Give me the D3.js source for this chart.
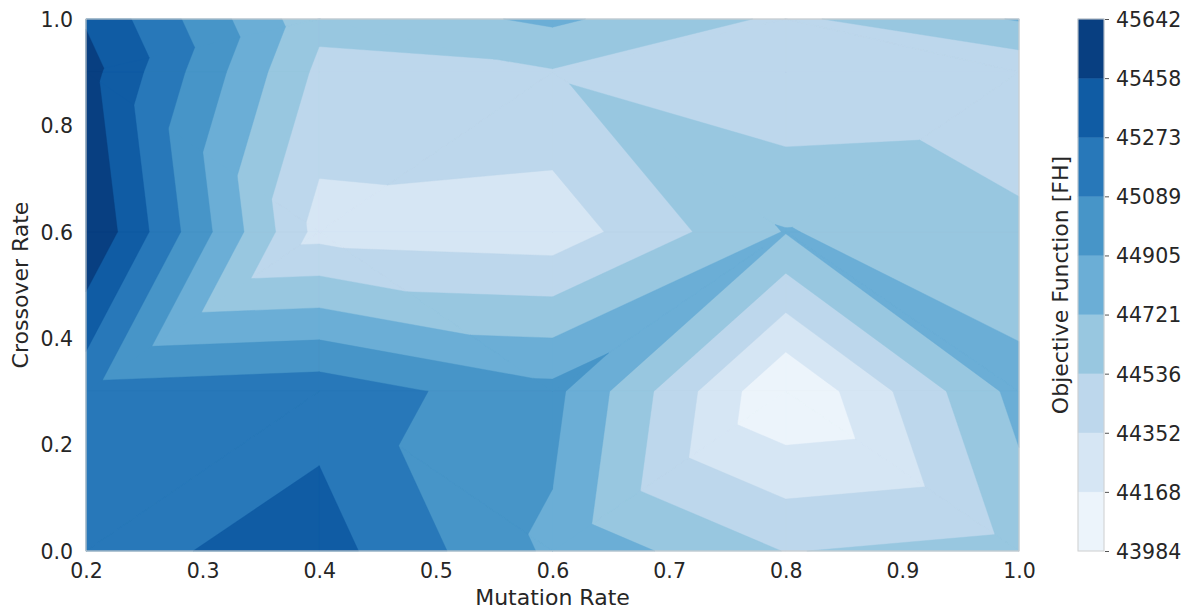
<!DOCTYPE html>
<html>
<head>
<meta charset="utf-8">
<script src="https://cdn.jsdelivr.net/npm/d3@7"></script>
<style>
  html, body { margin: 0; padding: 0; background: #ffffff; }
  text { font-family: "DejaVu Sans", sans-serif; fill: #262626; }
</style>
</head>
<body>
<svg id="chart" width="1192" height="609"></svg>
<script>
// ---------------- data ----------------
const mutationRates  = [0.2, 0.4, 0.6, 0.8, 1.0];
const crossoverRates = [0.0, 0.3, 0.6, 0.9, 1.0];

// objective function [FH] per crossover rate, one value per mutation rate
const fhCrossover00 = [45204, 45355, 44870, 44530,   44600];
const fhCrossover03 = [45150, 45202, 44960, 43983.6, 44786];
const fhCrossover06 = [45641.8, 44282, 44245, 44730, 44577];
const fhCrossover09 = [45530, 44492, 44521, 44366,   44393];
const fhCrossover10 = [45440, 44584, 44757, 44500,   44735];

// how each grid cell of samples is split into two triangles ("/" or "\")
const cellSplits = [
  ["/", "\\", "/", "\\"],
  ["/", "\\", "/", "\\"],
  ["\\", "/", "\\", "/"],
  ["/", "\\", "/", "\\"]
];

const xTickValues = [0.2, 0.3, 0.4, 0.5, 0.6, 0.7, 0.8, 0.9, 1.0];
const yTickValues = [0.0, 0.2, 0.4, 0.6, 0.8, 1.0];
const nLevels = 10;

// ---------------- setup ----------------
const grid = [fhCrossover00, fhCrossover03, fhCrossover06, fhCrossover09, fhCrossover10];
const allValues = grid.flat();
const vMin = d3.min(allValues), vMax = d3.max(allValues);
const levels = d3.range(nLevels).map(i => vMin + i * (vMax - vMin) / (nLevels - 1));

const bluesAnchors = ["#f7fbff","#deebf7","#c6dbef","#9ecae1","#6baed6","#4292c6","#2171b5","#08519c","#08306b"];
const blues = d3.piecewise(d3.interpolateRgb, bluesAnchors);
const bandColors = d3.range(nLevels - 1).map(k => blues((k + 0.5) / (nLevels - 1)));

const plot = { left: 86, right: 1019, top: 19, bottom: 551 };
const x = d3.scaleLinear().domain([0.2, 1.0]).range([plot.left, plot.right]);
const y = d3.scaleLinear().domain([0.0, 1.0]).range([plot.bottom, plot.top]);

const svg = d3.select("#chart");

// ---------------- triangles from the sample grid ----------------
const triangles = [];
for (let j = 0; j < crossoverRates.length - 1; j++) {
  for (let i = 0; i < mutationRates.length - 1; i++) {
    const P = (a, b) => ({ x: mutationRates[a], y: crossoverRates[b], v: grid[b][a] });
    const p00 = P(i, j), p10 = P(i + 1, j), p01 = P(i, j + 1), p11 = P(i + 1, j + 1);
    if (cellSplits[j][i] === "/") {
      triangles.push([p00, p10, p11], [p00, p11, p01]);
    } else {
      triangles.push([p00, p10, p01], [p10, p11, p01]);
    }
  }
}

function clipAbove(poly, lev) {
  const out = [];
  for (let a = 0; a < poly.length; a++) {
    const p = poly[a], q = poly[(a + 1) % poly.length];
    const pin = p.v >= lev, qin = q.v >= lev;
    if (pin) out.push(p);
    if (pin !== qin) {
      const t = (lev - p.v) / (q.v - p.v);
      out.push({ x: p.x + t * (q.x - p.x), y: p.y + t * (q.y - p.y), v: lev });
    }
  }
  return out;
}

const ring = d3.line().x(d => x(d.x)).y(d => y(d.y));

const bandsG = svg.append("g");
bandColors.forEach((color, k) => {
  const lev = k === 0 ? -Infinity : levels[k];
  const d = triangles
    .map(t => clipAbove(t, lev))
    .filter(p => p.length >= 3)
    .map(p => ring(p) + "Z")
    .join("");
  bandsG.append("path")
    .attr("d", d)
    .attr("fill", color)
    .attr("stroke", color)
    .attr("stroke-width", 0.4)
    .attr("stroke-linejoin", "round");
});

// frame
svg.append("rect")
  .attr("x", plot.left).attr("y", plot.top)
  .attr("width", plot.right - plot.left).attr("height", plot.bottom - plot.top)
  .attr("fill", "none").attr("stroke", "#cccccc").attr("stroke-width", 1.1);

// ---------------- axes ----------------
const tickFont = "20.5px";
const xAxis = svg.append("g")
  .attr("transform", `translate(0,${plot.bottom})`)
  .call(d3.axisBottom(x).tickValues(xTickValues).tickFormat(d3.format(".1f")).tickSize(0).tickPadding(12));
xAxis.select(".domain").remove();
xAxis.selectAll("text").style("font-size", tickFont).attr("fill", "#262626");

const yAxis = svg.append("g")
  .attr("transform", `translate(${plot.left},0)`)
  .call(d3.axisLeft(y).tickValues(yTickValues).tickFormat(d3.format(".1f")).tickSize(0).tickPadding(13));
yAxis.select(".domain").remove();
yAxis.selectAll("text").style("font-size", tickFont).attr("fill", "#262626").attr("dy", "0.36em");

svg.append("text")
  .attr("x", (plot.left + plot.right) / 2).attr("y", 605)
  .attr("text-anchor", "middle").style("font-size", "22px")
  .text("Mutation Rate");

svg.append("text")
  .attr("transform", `translate(28,${(plot.top + plot.bottom) / 2}) rotate(-90)`)
  .attr("text-anchor", "middle").style("font-size", "22px")
  .text("Crossover Rate");

// ---------------- colorbar ----------------
const cb = { left: 1078, right: 1104 };
const cbScale = d3.scaleLinear().domain([levels[0], levels[nLevels - 1]]).range([plot.bottom, plot.top]);
const cbG = svg.append("g");
bandColors.forEach((color, k) => {
  cbG.append("rect")
    .attr("x", cb.left).attr("width", cb.right - cb.left)
    .attr("y", cbScale(levels[k + 1])).attr("height", cbScale(levels[k]) - cbScale(levels[k + 1]))
    .attr("fill", color).attr("stroke", color).attr("stroke-width", 0.4);
});
cbG.append("rect")
  .attr("x", cb.left).attr("y", plot.top)
  .attr("width", cb.right - cb.left).attr("height", plot.bottom - plot.top)
  .attr("fill", "none").attr("stroke", "#d0d0d0").attr("stroke-width", 1);

const cbAxis = svg.append("g")
  .attr("transform", `translate(${cb.right + 1},0)`)
  .call(d3.axisRight(cbScale).tickValues(levels).tickFormat(d3.format(".0f")).tickSize(4).tickPadding(7));
cbAxis.select(".domain").remove();
cbAxis.selectAll(".tick line").attr("stroke", "#555555").attr("stroke-width", 1);
cbAxis.selectAll("text").style("font-size", tickFont).attr("fill", "#262626").attr("dy", "0.36em");

svg.append("text")
  .attr("transform", `translate(1068,${(plot.top + plot.bottom) / 2}) rotate(-90)`)
  .attr("text-anchor", "middle").style("font-size", "22px")
  .text("Objective Function [FH]");
</script>
</body>
</html>
